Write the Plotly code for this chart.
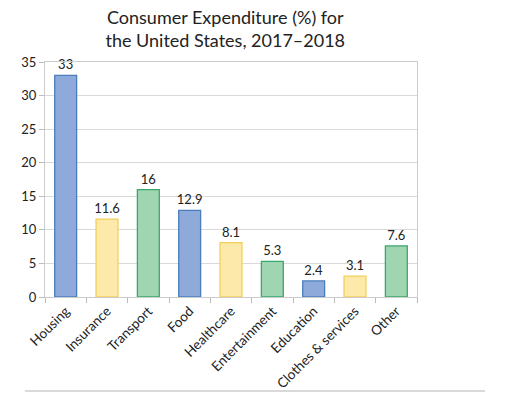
import plotly.graph_objects as go

categories = ["Housing", "Insurance", "Transport", "Food", "Healthcare",
              "Entertainment", "Education", "Clothes & services", "Other"]
values = [33, 11.6, 16, 12.9, 8.1, 5.3, 2.4, 3.1, 7.6]
value_labels = ["33", "11.6", "16", "12.9", "8.1", "5.3", "2.4", "3.1", "7.6"]

fills = ["#8eaadb", "#fde9a9", "#9fd5b0"] * 3
lines = ["#4a7ebb", "#f2cf5b", "#3aa86b"] * 3

fig = go.Figure(go.Bar(
    x=categories, y=values, text=value_labels, textposition="outside",
    textfont=dict(size=13, color="#222"), constraintext="none",
    marker=dict(color=fills, line=dict(color=lines, width=1.3)),
    width=0.53, cliponaxis=False,
))

fig.update_layout(
    width=512, height=393,
    margin=dict(l=45, r=95, t=62, b=96),
    paper_bgcolor="white", plot_bgcolor="white",
    font=dict(family="Lato, sans-serif", color="#222"),
    title=dict(text="Consumer Expenditure (%) for<br>the United States, 2017–2018",
               x=0.44, xanchor="center", yref="container", y=0.94, yanchor="middle",
               font=dict(size=18, color="#222")),
    showlegend=False,
    xaxis=dict(tickangle=-45, tickfont=dict(size=13.5), ticks="outside",
               tickson="boundaries", ticklen=5, tickcolor="#bbb", automargin=False,
               showline=True, linecolor="#ccc", mirror=True, showgrid=False),
    yaxis=dict(range=[0, 35], dtick=5, tickfont=dict(size=13), ticks="outside",
               ticklen=5, tickcolor="#bbb", showline=True, linecolor="#ccc",
               automargin=False,
               mirror=True, gridcolor="#d9d9d9", zeroline=False),
    shapes=[dict(type="line", xref="paper", yref="paper",
                 x0=-0.054, x1=1.183, y0=-0.40, y1=-0.40,
                 line=dict(color="#ccc", width=1.5))],
)

fig.write_html("out.html")
